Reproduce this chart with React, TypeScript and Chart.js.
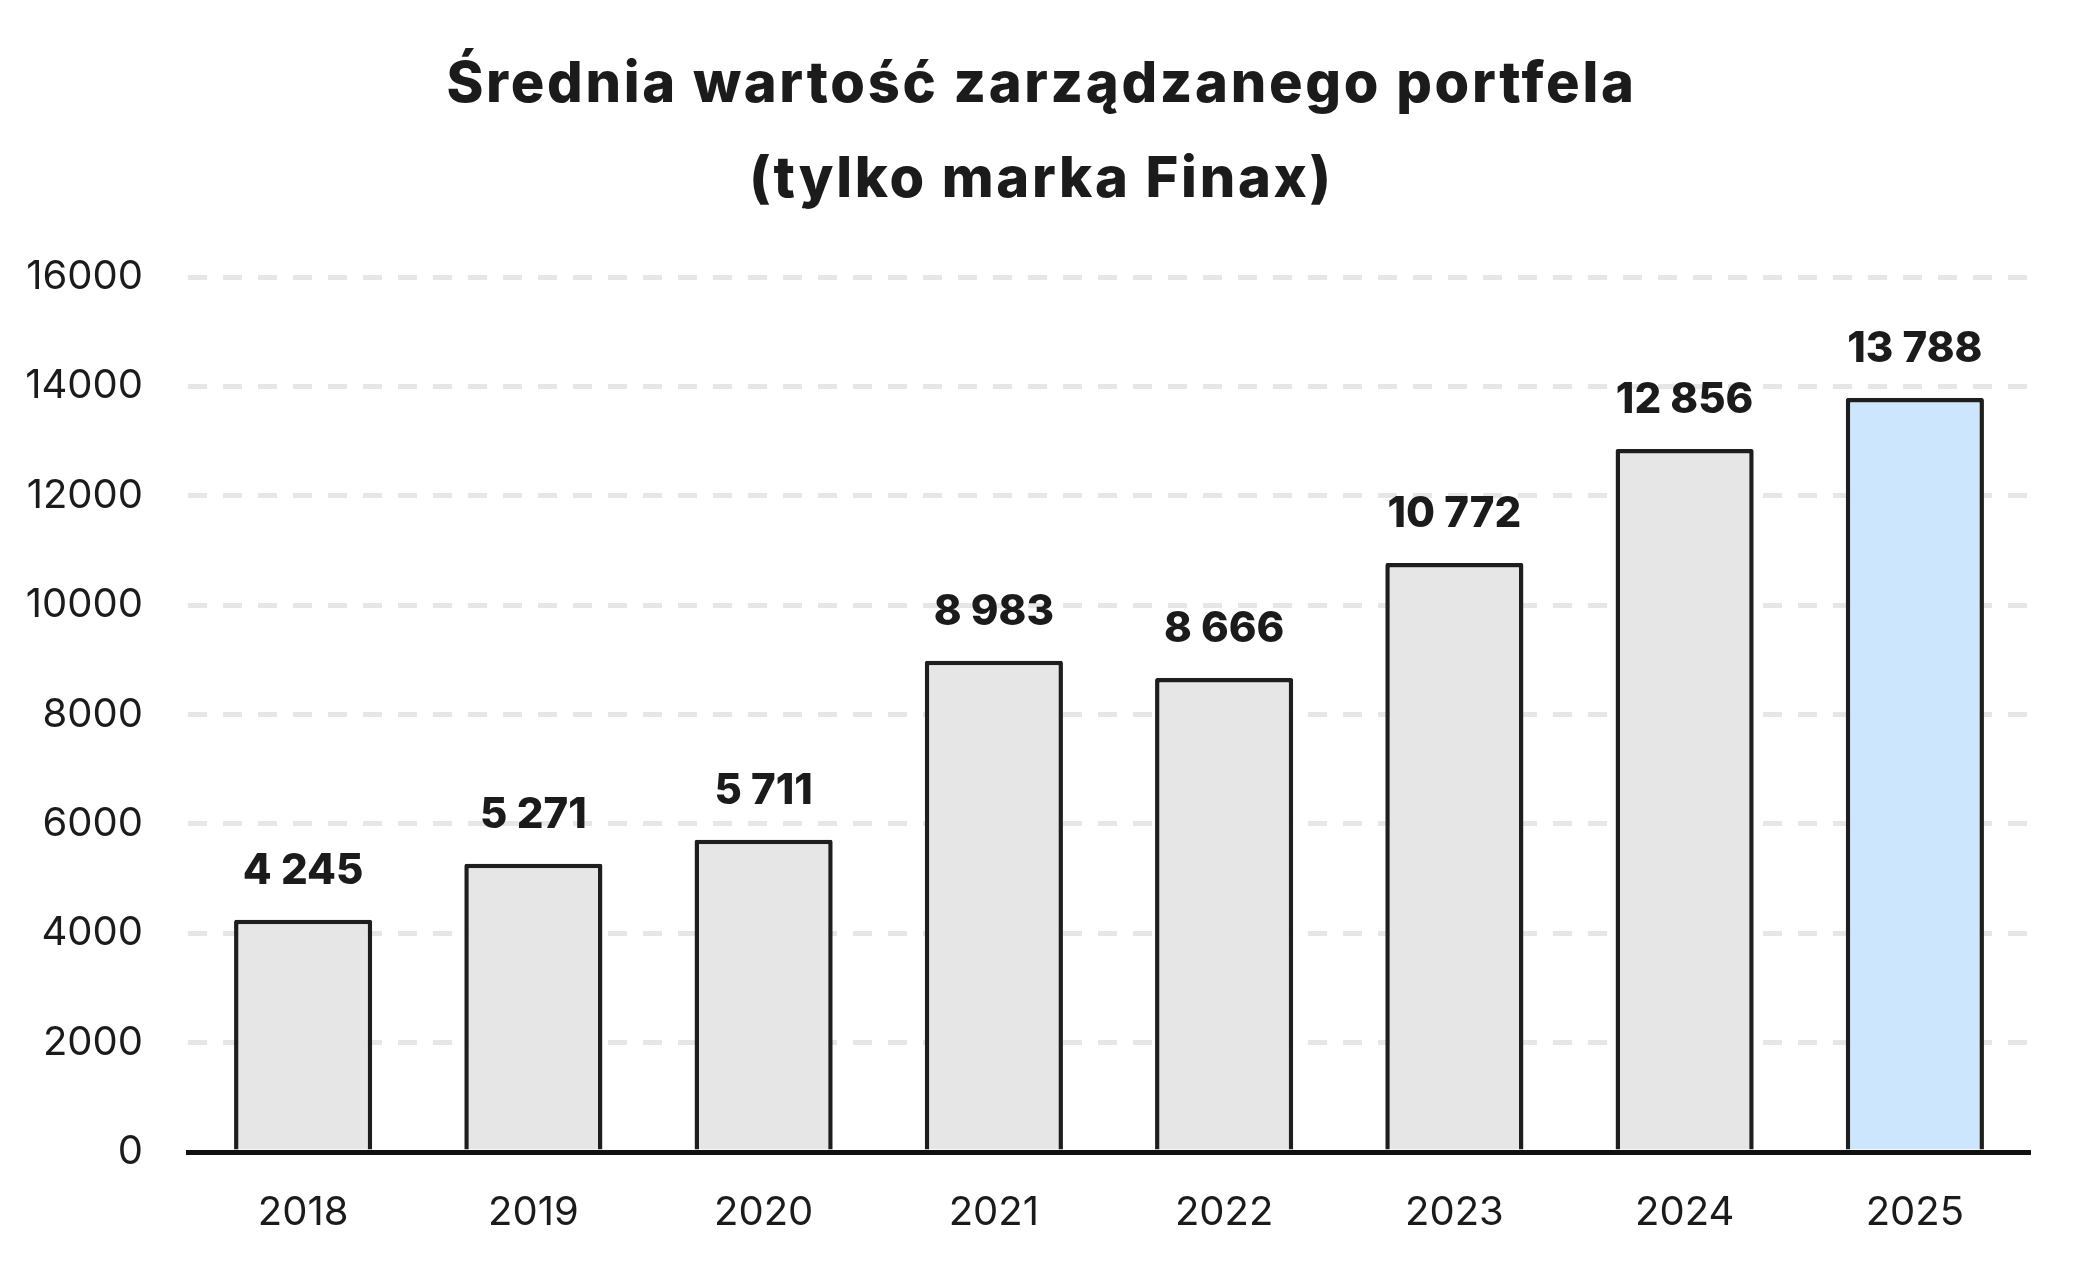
import { useEffect, useRef } from 'react';
import { Chart, registerables } from 'chart.js';

Chart.register(...registerables);

const years = ['2018', '2019', '2020', '2021', '2022', '2023', '2024', '2025'];
const portfolioValues = [4245, 5271, 5711, 8983, 8666, 10772, 12856, 13788];
const barColors = ['#e6e6e6', '#e6e6e6', '#e6e6e6', '#e6e6e6', '#e6e6e6', '#e6e6e6', '#e6e6e6', '#cce6fe'];
const titleLines = ['Średnia wartość zarządzanego portfela', '(tylko marka Finax)'];

const FONT = 'Inter, "Noto Sans", sans-serif';
const INK = '#1b1b1b';

// spacje jako separator tysięcy, np. 12 856
const fmt = (v: number) => String(v).replace(/\B(?=(\d{3})+(?!\d))/g, ' ');

// tytuł rysowany ręcznie, żeby dało się dodać odstęp między literami
const titleBlock = {
	id: 'titleBlock',
	afterDraw(chart: any) {
		const {ctx} = chart;
		ctx.save();
		ctx.font = `800 56px ${FONT}`;
		if ('letterSpacing' in ctx) ctx.letterSpacing = '2.7px';
		ctx.fillStyle = INK;
		ctx.textAlign = 'center';
		ctx.textBaseline = 'alphabetic';
		titleLines.forEach((line, i) => {
			ctx.fillText(line, chart.width / 2 + 2, 102 + i * 95);
		});
		ctx.restore();
	}
};

const valueLabels = {
	id: 'valueLabels',
	afterDatasetsDraw(chart: any) {
		const {ctx} = chart;
		const meta = chart.getDatasetMeta(0);
		ctx.save();
		ctx.font = `800 42px ${FONT}`;
		ctx.fillStyle = INK;
		ctx.textAlign = 'center';
		ctx.textBaseline = 'alphabetic';
		meta.data.forEach((bar: any, i: number) => {
			ctx.fillText(fmt(portfolioValues[i]), bar.x, bar.y - 36);
		});
		ctx.restore();
	}
};

export default function App() {
	const canvasRef: any = useRef(null);

	useEffect(() => {
		if (!canvasRef.current) return;
		const chart = new Chart(canvasRef.current.getContext('2d'), {
			type: 'bar',
			data: {
				labels: years,
				datasets: [
					{
						data: portfolioValues,
						backgroundColor: barColors,
						borderColor: '#1e1e1e',
						borderWidth: 4.5,
						borderSkipped: 'bottom',
						borderRadius: 2,
						barPercentage: 0.6,
						categoryPercentage: 1
					}
				]
			},
			options: {
				animation: false,
				responsive: true,
				maintainAspectRatio: false,
				layout: {
					padding: {left: 0, right: 49, top: 277, bottom: 0}
				},
				scales: {
					x: {
						grid: {display: false, drawTicks: false},
						border: {display: true, color: '#111111', width: 5},
						ticks: {
							color: INK,
							padding: 37,
							font: {family: FONT, size: 40, weight: 400}
						},
						afterFit: (scale: any) => {
							scale.height = 119;
						}
					},
					y: {
						min: 0,
						max: 16000,
						grid: {
							drawTicks: false,
							lineWidth: 5,
							color: (c: any) => (c.tick && c.tick.value === 0 ? 'rgba(0,0,0,0)' : '#e6e6e6')
						},
						border: {display: false, dash: [19, 16]},
						ticks: {
							stepSize: 2000,
							color: INK,
							padding: 45,
							font: {family: FONT, size: 40, weight: 400},
							callback: (v: any) => String(v)
						},
						afterFit: (scale: any) => {
							scale.width = 188;
						}
					}
				},
				plugins: {
					legend: {display: false},
					tooltip: {enabled: false},
					title: {display: false}
				}
			},
			plugins: [valueLabels, titleBlock]
		});
		return () => {
			chart.destroy();
		};
	}, []);

	return (
		<div style={{position: 'fixed', left: 0, top: 0, width: '100vw', height: '100vh', background: '#ffffff'}}>
			<canvas ref={canvasRef} />
		</div>
	);
}
